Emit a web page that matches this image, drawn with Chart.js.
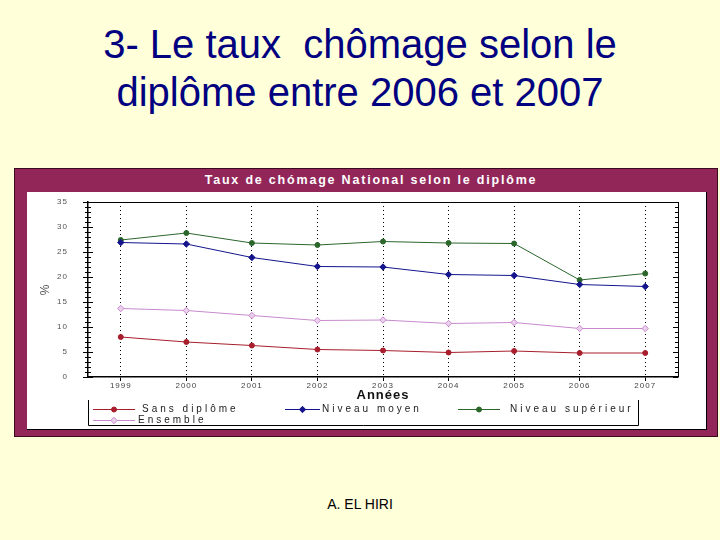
<!DOCTYPE html>
<html>
<head>
<meta charset="utf-8">
<script src="https://cdn.jsdelivr.net/npm/chart.js@4/dist/chart.umd.min.js"></script>
<style>
  body { margin: 0; width: 720px; height: 540px; background: #FFFFD9; position: relative; overflow: hidden;
         font-family: 'Liberation Sans', Arial, sans-serif; }
  #title { position: absolute; left: 0; width: 720px; top: 20px; text-align: center; color: #000080;
           font-size: 40px; line-height: 48px; white-space: pre; }
  #frame { position: absolute; left: 14px; top: 168px; width: 702px; height: 267px; background: #922659;
           border: 1px solid #3a0a1e; }
  #frame-title { position: absolute; left: 0; top: 4px; width: 702px; text-align: center; color: #fff;
                 font-weight: bold; font-size: 12.5px; letter-spacing: 1.8px; padding-left: 10px; box-sizing: border-box; }
  #inner { position: absolute; left: 12px; top: 23px; width: 679px; height: 237px; background: #fff;
           border-right: 1px solid #000; border-bottom: 1px solid #000; }
  #footer { position: absolute; left: 0; width: 720px; top: 496px; text-align: center; font-size: 14px; color: #000; }
</style>
</head>
<body>
<div id="title">3- Le taux  chômage selon le
diplôme entre 2006 et 2007</div>
<div id="frame">
  <div id="frame-title">Taux de chómage National selon le diplôme</div>
  <div id="inner"><canvas id="chart" width="679" height="237"></canvas></div>
</div>
<div id="footer">A. EL HIRI</div>
<script>
const years = ['1999', '2000', '2001', '2002', '2003', '2004', '2005', '2006', '2007'];
const sansDiplome = [8.0, 7.0, 6.3, 5.5, 5.3, 4.9, 5.2, 4.8, 4.8];
const niveauMoyen = [26.9, 26.6, 23.9, 22.1, 22.0, 20.5, 20.3, 18.5, 18.1];
const niveauSuperieur = [27.4, 28.8, 26.8, 26.4, 27.1, 26.8, 26.7, 19.4, 20.7];
const ensemble = [13.7, 13.3, 12.3, 11.3, 11.4, 10.7, 10.9, 9.7, 9.7];
const yTicks = [0, 5, 10, 15, 20, 25, 30, 35];

function serie(label, data, color, fill, style) {
  return {
    label, data,
    borderColor: color, backgroundColor: fill,
    pointBorderColor: color, pointBackgroundColor: fill,
    borderWidth: 1, pointStyle: style, pointRadius: style === 'circle' ? 2.5 : 3.2,
    pointBorderWidth: 1, tension: 0
  };
}

// ticks on both vertical borders, top border, legend box
const frameBox = {
  id: 'frameBox',
  beforeDraw(chart) {
    chart.ctx.letterSpacing = '1px';
  },
  afterDraw(chart) {
    const ctx = chart.ctx;
    const a = chart.chartArea;
    const y = chart.scales.y;
    ctx.save();
    ctx.strokeStyle = '#000';
    ctx.lineWidth = 1;
    ctx.beginPath();
    ctx.moveTo(a.left - 5, a.top + 0.5);
    ctx.lineTo(a.right, a.top + 0.5);
    ctx.moveTo(a.right + 0.5, a.top);
    ctx.lineTo(a.right + 0.5, a.bottom);
    for (let v = 0; v <= 35; v++) {
      const py = Math.round(y.getPixelForValue(v)) + 0.5;
      const len = yTicks.includes(v) ? 5 : 3;
      ctx.moveTo(a.left - len, py);
      ctx.lineTo(a.left + len, py);
      ctx.moveTo(a.right - len, py);
      ctx.lineTo(a.right, py);
    }
    ctx.stroke();

    // legend
    ctx.beginPath();
    ctx.moveTo(61.5, 208);
    ctx.lineTo(61.5, 233.5);
    ctx.lineTo(611.5, 233.5);
    ctx.lineTo(611.5, 208);
    ctx.stroke();
    const spots = [
      { x0: 66, x1: 108, tx: 115, y: 217 },
      { x0: 258, x1: 293, tx: 295, y: 217 },
      { x0: 431, x1: 473, tx: 483, y: 217 },
      { x0: 66, x1: 108, tx: 111, y: 228 }
    ];
    ctx.letterSpacing = '3px';
    ctx.font = '10px "Liberation Sans", Arial, sans-serif';
    ctx.textBaseline = 'middle';
    chart.data.datasets.forEach((ds, i) => {
      const s = spots[i];
      ctx.strokeStyle = ds.borderColor;
      ctx.beginPath();
      ctx.moveTo(s.x0, s.y + 0.5);
      ctx.lineTo(s.x1, s.y + 0.5);
      ctx.stroke();
      ctx.fillStyle = ds.pointBackgroundColor;
      Chart.helpers.drawPoint(ctx, { pointStyle: ds.pointStyle, radius: ds.pointRadius, rotation: 0, borderWidth: 1 },
        (s.x0 + s.x1) / 2, s.y + 0.5);
      ctx.fillStyle = '#222';
      ctx.fillText(ds.label, s.tx, s.y + 0.5);
    });
    ctx.restore();
  }
};

new Chart(document.getElementById('chart'), {
  type: 'line',
  data: {
    labels: years,
    datasets: [
      serie('Sans diplôme', sansDiplome, '#A81E2C', '#A81E2C', 'circle'),
      serie('Niveau moyen', niveauMoyen, '#14148C', '#14148C', 'rectRot'),
      serie('Niveau supérieur', niveauSuperieur, '#2B662B', '#2B662B', 'circle'),
      serie('Ensemble', ensemble, '#C88ACD', '#EAD0EC', 'rectRot')
    ]
  },
  options: {
    responsive: false,
    animation: false,
    devicePixelRatio: 1,
    layout: { padding: { left: 0, top: 10, right: 28, bottom: 0 } },
    plugins: { legend: { display: false }, tooltip: { enabled: false } },
    scales: {
      x: {
        offset: true,
        grid: { color: '#000', offset: false, lineWidth: 1, tickLength: 4, tickColor: '#000' },
        border: { display: true, color: '#000', width: 1.5, dash: [1, 3] },
        ticks: { color: '#444', padding: 0, font: { size: 8, family: 'Liberation Sans' } },
        title: { display: true, text: 'Années', color: '#111', padding: { top: 0, bottom: 26 },
                 font: { size: 13, weight: 'bold', family: 'Liberation Sans' } },
        afterFit(scale) { scale.height = 52; }
      },
      y: {
        min: 0, max: 35,
        grid: { display: false },
        border: { display: true, color: '#000', width: 1.5 },
        ticks: {
          stepSize: 5, color: '#555', padding: 12,
          font: { size: 8, family: 'Liberation Sans' }
        },
        title: { display: true, text: '%', color: '#555', padding: { top: 11, bottom: 0 },
                 font: { size: 12, family: 'Liberation Sans' } },
        afterFit(scale) {
          scale.width = 61;
          scale.paddingTop = 0;
          scale.paddingBottom = 0;
        }
      }
    }
  },
  plugins: [frameBox]
});
</script>
</body>
</html>
